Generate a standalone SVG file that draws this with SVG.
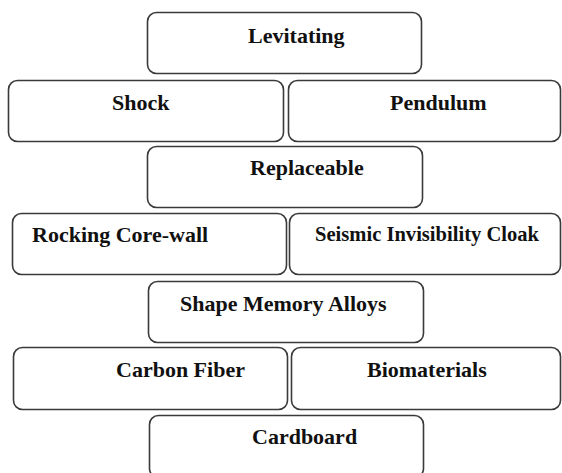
<svg xmlns="http://www.w3.org/2000/svg" width="562" height="473" viewBox="0 0 562 473">
<style>
.box{fill:#fff;stroke:#3a3a3a;stroke-width:1.6}
text{font-weight:bold;font-size:22px;fill:#111}
</style>
<rect width="562" height="473" fill="#fff"/>
<g font-family="'Liberation Serif', 'Times New Roman', Times, serif">
<g id="levitating"><rect class="box" x="147.5" y="12.5" width="274" height="61" rx="9"/><text x="248" y="43">Levitating</text></g>
<g id="shock"><rect class="box" x="8.5" y="80.5" width="275" height="61" rx="9"/><text x="112" y="110">Shock</text></g>
<g id="pendulum"><rect class="box" x="288.5" y="80.5" width="272" height="61" rx="9"/><text x="390" y="110">Pendulum</text></g>
<g id="replaceable"><rect class="box" x="147.5" y="146.5" width="275" height="61" rx="9"/><text x="250" y="175">Replaceable</text></g>
<g id="rocking"><rect class="box" x="12.5" y="213.5" width="274" height="61" rx="9"/><text x="32" y="242">Rocking Core-wall</text></g>
<g id="seismic"><rect class="box" x="289.5" y="213.5" width="271" height="61" rx="9"/><text x="315" y="241" textLength="224" lengthAdjust="spacingAndGlyphs">Seismic Invisibility Cloak</text></g>
<g id="sma"><rect class="box" x="148.5" y="281.5" width="275" height="61" rx="9"/><text x="180" y="311">Shape Memory Alloys</text></g>
<g id="carbon"><rect class="box" x="13.5" y="347.5" width="274" height="62" rx="9"/><text x="116" y="377">Carbon Fiber</text></g>
<g id="bio"><rect class="box" x="291.5" y="347.5" width="269" height="62" rx="9"/><text x="367" y="377">Biomaterials</text></g>
<g id="cardboard"><rect class="box" x="149.5" y="415.5" width="274" height="62" rx="9"/><text x="252" y="444">Cardboard</text></g>
</g>
</svg>
